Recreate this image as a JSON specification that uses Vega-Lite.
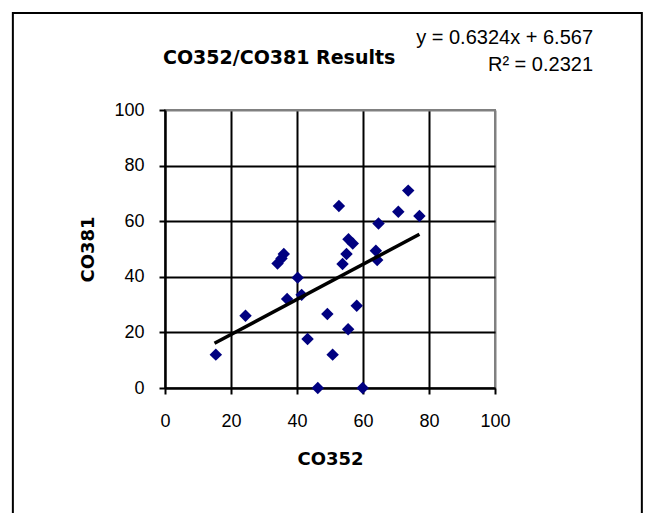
{
  "$schema": "https://vega.github.io/schema/vega-lite/v6.json",
  "autosize": {"type": "none"},
  "padding": {"left": 165, "top": 110, "right": 150, "bottom": 125},
  "width": 330,
  "height": 278,
  "background": "white",
  "config": {
    "font": "Liberation Sans",
    "view": {"stroke": "#808080", "strokeWidth": 2},
    "axis": {
      "labelFont": "Liberation Sans",
      "labelFontSize": 18,
      "labelColor": "black",
      "titleFont": "DejaVu Sans",
      "titleFontSize": 18,
      "titleFontWeight": "bold",
      "titleColor": "black",
      "domainColor": "black",
      "domainWidth": 2,
      "tickColor": "black",
      "tickWidth": 2,
      "tickSize": 6,
      "gridColor": {"condition": {"test": "datum.value === 100", "value": "#808080"}, "value": "black"},
      "gridWidth": 2,
      "gridOpacity": 1
    }
  },
  "datasets": {
    "points": [
      {"CO352": 15.4, "CO381": 12.0},
      {"CO352": 24.4, "CO381": 26.0},
      {"CO352": 34.1, "CO381": 44.8},
      {"CO352": 35.3, "CO381": 46.6},
      {"CO352": 36.0, "CO381": 48.2},
      {"CO352": 37.0, "CO381": 32.0},
      {"CO352": 40.2, "CO381": 39.7},
      {"CO352": 41.4, "CO381": 33.5},
      {"CO352": 43.2, "CO381": 17.6},
      {"CO352": 46.3, "CO381": 0.0},
      {"CO352": 49.2, "CO381": 26.6},
      {"CO352": 50.8, "CO381": 12.0},
      {"CO352": 52.7, "CO381": 65.5},
      {"CO352": 53.8, "CO381": 44.6},
      {"CO352": 55.0, "CO381": 48.2},
      {"CO352": 55.6, "CO381": 53.5},
      {"CO352": 56.9, "CO381": 52.0},
      {"CO352": 55.5, "CO381": 21.1},
      {"CO352": 58.1, "CO381": 29.6},
      {"CO352": 59.9, "CO381": 0.0},
      {"CO352": 64.7, "CO381": 59.2},
      {"CO352": 63.9, "CO381": 49.4},
      {"CO352": 64.3, "CO381": 46.0},
      {"CO352": 70.7, "CO381": 63.4},
      {"CO352": 73.7, "CO381": 71.0},
      {"CO352": 77.1, "CO381": 61.9}
    ],
    "trend": [
      {"CO352": 15.0, "CO381": 16.1},
      {"CO352": 77.1, "CO381": 55.3}
    ],
    "frame": [
      {"x": -46.1, "x2": 144.5, "y": 134.9, "y2": -60}
    ]
  },
  "layer": [
    {
      "data": {"name": "frame"},
      "mark": {"type": "rect", "fill": null, "stroke": "black", "strokeWidth": 2, "clip": false},
      "encoding": {
        "x": {"field": "x", "type": "quantitative", "scale": {"domain": [0, 100]}},
        "x2": {"field": "x2"},
        "y": {"field": "y", "type": "quantitative", "scale": {"domain": [0, 100]}},
        "y2": {"field": "y2"}
      }
    },
    {
      "data": {"name": "points"},
      "mark": {"type": "point", "shape": "diamond", "filled": true, "color": "#000080", "size": 155, "opacity": 1, "clip": false},
      "encoding": {
        "x": {
          "field": "CO352", "type": "quantitative",
          "scale": {"domain": [0, 100], "nice": false, "zero": false},
          "axis": {"values": [0, 20, 40, 60, 80, 100], "title": "CO352", "labelPadding": 18, "titlePadding": 20, "labelFlush": false}
        },
        "y": {
          "field": "CO381", "type": "quantitative",
          "scale": {"domain": [0, 100], "nice": false, "zero": false},
          "axis": {"values": [0, 20, 40, 60, 80, 100], "title": "CO381", "labelPadding": 15, "titlePadding": 16, "labelFlush": false}
        }
      }
    },
    {
      "data": {"name": "trend"},
      "mark": {"type": "line", "color": "black", "strokeWidth": 3.5},
      "encoding": {
        "x": {"field": "CO352", "type": "quantitative"},
        "y": {"field": "CO381", "type": "quantitative"}
      }
    },
    {
      "data": {"values": [{"label": "CO352/CO381 Results", "x": 34.6, "y": 118.6}]},
      "mark": {"type": "text", "font": "DejaVu Sans", "fontSize": 19, "fontWeight": "bold", "color": "black", "align": "center", "baseline": "middle", "clip": false},
      "encoding": {
        "x": {"field": "x", "type": "quantitative"},
        "y": {"field": "y", "type": "quantitative"},
        "text": {"field": "label"}
      }
    },
    {
      "data": {"values": [{"label": "y = 0.6324x + 6.567", "x": 129.7, "y": 125.8}, {"label": "R² = 0.2321", "x": 129.7, "y": 116.2}]},
      "mark": {"type": "text", "font": "Liberation Sans", "fontSize": 20, "color": "black", "align": "right", "baseline": "middle", "clip": false},
      "encoding": {
        "x": {"field": "x", "type": "quantitative"},
        "y": {"field": "y", "type": "quantitative"},
        "text": {"field": "label"}
      }
    }
  ]
}
